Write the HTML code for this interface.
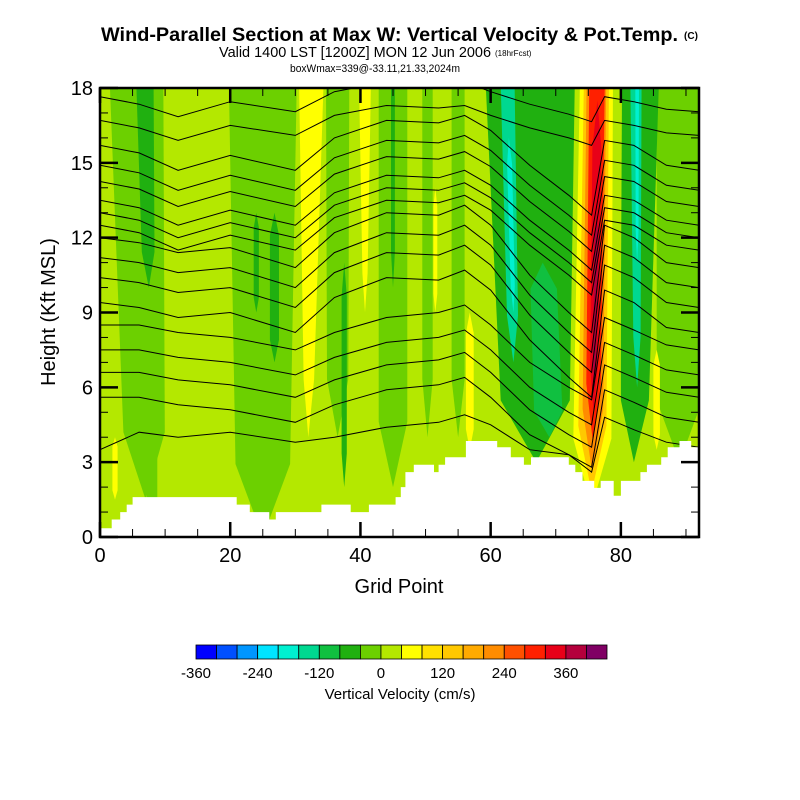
<!DOCTYPE html>
<html><head><meta charset="utf-8"><style>
html,body{margin:0;padding:0;background:#fff}
svg{display:block;font-family:"Liberation Sans",sans-serif}
</style></head><body>
<svg id="chart" width="800" height="800" viewBox="0 0 800 800">
<text x="101" y="41" font-size="19" font-weight="bold" textLength="577" lengthAdjust="spacingAndGlyphs">Wind-Parallel Section at Max W: Vertical Velocity &amp; Pot.Temp.</text>
<text x="691" y="39" text-anchor="middle" font-size="10" font-weight="bold">(C)</text>
<text x="219" y="57" font-size="14.5" textLength="272" lengthAdjust="spacingAndGlyphs">Valid 1400 LST [1200Z] MON 12 Jun 2006</text>
<text x="495" y="56" font-size="8">(18hrFcst)</text>
<text x="290" y="72" font-size="11" textLength="170" lengthAdjust="spacingAndGlyphs">boxWmax=339@-33.11,21.33,2024m</text>
<defs><clipPath id="plotclip"><rect x="100" y="88" width="599" height="449"/></clipPath></defs>
<g id="plot" clip-path="url(#plotclip)">
<rect x="100" y="88" width="599" height="449" fill="#b4e800"/>
<g id="bands"></g>
<g id="contours"></g>
<g id="terrain"></g>
</g>
<g id="axes"></g>
<text x="399" y="593" text-anchor="middle" font-size="20">Grid Point</text>
<text transform="translate(55,312) rotate(-90)" text-anchor="middle" font-size="20">Height (Kft MSL)</text>
<g id="colorbar"></g>
<text x="400" y="699" text-anchor="middle" font-size="15">Vertical Velocity (cm/s)</text>
</svg>
<script>
// ---- data ----
const binColors = ["#0000ff","#0050ff","#0096ff","#00e4ff","#00f0d0","#00d890","#10c040","#20b010","#6cd000","#b4e800","#ffff00","#ffe000","#ffc800","#ffaa00","#ff8c00","#ff5000","#ff2000","#e80018","#b4003c","#800064"];
const cbTicks = [-360,-240,-120,0,120,240,360];
// bands: [xBottom, xTop, zBottom, zTop, halfWidthBottom, halfWidthTop, w(cm/s)]
const bands = [
 [7,5.5,1.5,18,3.0,4.2,-20],
 [7.5,6.8,10,18,0.9,1.4,-60],
 [8,8,0,9,0.8,0.8,-20],
 [2.3,2.3,1.5,4,0.4,0.4,60],
 [25,25,0,18,4,5.3,-20],
 [24,24,9,13,0.4,0.4,-60],
 [26.8,26.8,7,13,0.7,0.7,-60],
 [32,32.5,4,18,0.6,2.0,60],
 [36.5,36.5,4,18,1.6,1.8,-20],
 [37.5,37.5,2,11,0.4,0.4,-60],
 [40.7,40.7,9,18,0.3,1.0,60],
 [45,45,2,18,2.2,2.2,-20],
 [45,45,10,18,0.3,0.3,-60],
 [50.3,50.3,4,18,0.8,0.8,-20],
 [55,55,4,18,1,1,-20],
 [67,66,3,18,5.0,7.0,-60],
 [69,68,4,11,2.2,2.0,-100],
 [63.5,62.5,7,18,0.8,1.1,-140],
 [63.5,62.8,9,16,0.3,0.4,-180],
 [56.8,56.8,3.5,9,0.6,0.6,60],
 [51.5,51.5,9,14,0.3,0.3,60],
 [89,89,3,18,3.5,3.5,-20],
 [82,83,3,18,2.0,3.0,-60],
 [82.5,82.3,6,18,0.5,0.9,-140],
 [82.5,82.5,11,18,0.2,0.3,-200],
 [79.3,79.3,4,18,0.6,0.9,20],
 [85.5,85.5,3.5,7.5,0.5,0.5,60],
 [75.5,76.3,1.2,18,3.0,2.5,60],
 [75.5,76.3,1.8,18,2.2,1.9,140],
 [75.6,76.3,2.6,18,1.6,1.5,220],
 [75.7,76.4,3.8,18,1.1,1.2,300],
 [75.8,76.4,5,17.5,0.6,0.7,340],
 [75.9,76.3,6,13,0.25,0.3,380]
];
// theta contour sample positions and heights (kft)
const lineX = [0,6,12,20,30,36,44,52,56,60,66,72,75.5,77.5,82,87,92];
const L1 = [17.65,17.35,16.85,17.45,17.05,17.85,18.25,18.15,18.25,17.85,17.35,16.95,16.65,17.65,17.45,17.15,17.05];
const L2 = [16.7,16.4,15.9,16.5,16.1,16.9,17.3,17.2,17.3,16.9,16.4,16.0,15.7,16.7,16.5,16.2,16.1];
const L3 = [15.7,15.4,14.7,15.3,14.7,16.0,16.7,16.6,16.9,16.3,14.9,13.7,12.9,15.9,15.7,14.9,14.7];
const L4 = [14.9,14.6,13.9,14.5,13.9,15.2,15.9,15.8,16.1,15.5,14.1,12.9,12.1,15.1,14.9,14.1,13.9];
const L5 = [14.25,13.95,13.25,13.85,13.25,14.55,15.25,15.15,15.45,14.85,13.45,12.25,11.45,14.45,14.25,13.45,13.25];
const L6 = [13.5,13.2,12.5,13.1,12.5,13.8,14.5,14.4,14.7,14.1,12.7,11.5,10.7,13.7,13.5,12.7,12.5];
const L7 = [13.0,12.7,12.0,12.6,12.0,13.3,14.0,13.9,14.2,13.6,12.2,11.0,10.2,13.2,13.0,12.2,12.0];
const L8 = [12.5,12.2,11.5,12.1,11.5,12.8,13.5,13.4,13.7,13.1,11.7,10.5,9.7,12.7,12.5,11.7,11.5];
const L9 = [12.0,11.8,11.4,11.6,10.8,12.2,13.0,12.9,13.3,12.5,10.5,9.0,8.2,12.5,12.0,11.0,10.8];
const L10 = [11.2,11.0,10.6,10.8,10.0,11.4,12.2,12.1,12.5,11.7,9.7,8.2,7.4,11.7,11.2,10.2,10.0];
const L11 = [10.4,10.2,9.8,10.0,9.2,10.6,11.4,11.3,11.7,10.9,8.9,7.4,6.6,10.9,10.4,9.4,9.2];
const L12 = [9.4,9.2,8.8,9.0,8.2,9.6,10.4,10.3,10.7,9.9,7.9,6.4,5.6,9.9,9.4,8.4,8.2];
const L13 = [8.5,8.5,8.2,8.0,7.5,8.2,8.8,9.0,9.3,8.5,7.0,6.0,5.5,8.8,8.3,7.7,7.5];
const L14 = [7.5,7.5,7.2,7.0,6.5,7.2,7.8,8.0,8.3,7.5,6.0,5.0,4.5,7.8,7.3,6.7,6.5];
const L15 = [6.6,6.6,6.3,6.1,5.6,6.3,6.9,7.1,7.4,6.6,5.1,4.1,3.6,6.9,6.4,5.8,5.6];
const L16 = [5.6,5.6,5.3,5.1,4.6,5.3,5.9,6.1,6.4,5.6,4.1,3.3,2.8,5.9,5.4,4.8,4.6];
const L17 = [3.5,4.2,4.0,4.2,3.8,4.0,4.4,4.6,4.9,4.5,3.5,3.3,2.6,4.8,4.3,3.8,3.6];
const thetaLines = [L1,L2,L3,L4,L5,L6,L7,L8,L9,L10,L11,L12,L13,L14,L15,L16,L17];
// terrain: [start grid point, height kft]
const terrain = [[0,0.35],[1.8,0.7],[3.1,1.0],[4.1,1.3],[5,1.6],[21,1.3],[23,1.0],[26,0.7],[27,1.0],[34,1.3],[38.5,1.0],[41.3,1.3],[45.4,1.6],[46.2,2.0],[46.9,2.6],[48.2,2.9],[51.3,2.6],[52,2.9],[53,3.2],[56.2,3.85],[61,3.6],[63.1,3.2],[65.1,2.9],[66.2,3.2],[72,2.9],[73,2.6],[74.1,2.25],[75.9,1.97],[76.9,2.25],[78.9,1.65],[80,2.25],[83,2.6],[84,2.9],[86.2,3.2],[87.2,3.6],[89,3.85],[90.8,3.6]];
const xTicks = [0,20,40,60,80];
const yTicks = [0,3,6,9,12,15,18];

// ---- scales ----
const NS = "http://www.w3.org/2000/svg";
const X = g => 100 + g * (599/92);
const Y = z => 537 - z * (449/18);
const binColor = v => binColors[Math.max(0, Math.min(19, Math.floor((v + 360) / 40)))];
function mk(tag, attrs, parent){const e=document.createElementNS(NS,tag);for(const k in attrs)e.setAttribute(k,attrs[k]);parent.appendChild(e);return e;}

// bands
const gB = document.getElementById('bands');
bands.forEach((b,i)=>{
  const [xb,xt,zb,zt0,wb,wt,v]=b;
  const zt = zt0>=18 ? 19.5 : zt0;
  const len = zt-zb, zb2 = zb+len*0.15, zt2 = zt0>=18? zt : zt-len*0.15;
  const xAt = z => xb + (xt-xb)*(z-zb)/len;
  const wAt = z => wb + (wt-wb)*(z-zb)/len;
  const pts = [[xAt(zb),zb],[xAt(zb2)-wAt(zb2),zb2],[xAt(zt2)-wAt(zt2),zt2],[xAt(zt),zt],[xAt(zt2)+wAt(zt2),zt2],[xAt(zb2)+wAt(zb2),zb2]];
  if(zt0>=18){pts[3]=[xAt(zt)+wAt(zt),zt];pts.splice(3,0,[xAt(zt)-wAt(zt),zt]);}
  const p = mk('polygon',{points:pts.map(q=>X(q[0]).toFixed(1)+','+Y(q[1]).toFixed(1)).join(' '),fill:binColor(v)},gB);
  
  
});

// contours
const gC = document.getElementById('contours');
thetaLines.forEach(line=>{
  const d = line.map((z,i)=>(i?'L':'M')+X(lineX[i]).toFixed(1)+','+Y(z).toFixed(1)).join(' ');
  const p = mk('path',{d:d,fill:'none',stroke:'#000','stroke-width':1},gC);
  
  
});

// terrain
const gT = document.getElementById('terrain');
let tp = 'M'+X(0)+','+Y(-1);
terrain.forEach((s,i)=>{
  const x0=X(s[0]), x1=X(i+1<terrain.length?terrain[i+1][0]:93);
  tp += ' L'+x0.toFixed(1)+','+Y(s[1]).toFixed(1)+' L'+x1.toFixed(1)+','+Y(s[1]).toFixed(1);
});
tp += ' L'+X(93)+','+Y(-1)+' Z';
const tEl = mk('path',{d:tp,fill:'#fff'},gT);



// axes
const gA = document.getElementById('axes');
const frame = mk('rect',{x:100,y:88,width:599,height:449,fill:'none',stroke:'#000','stroke-width':2.5},gA);


for(let g=0; g<=92; g+=5){
  const major = g%20===0, L = major?15:8;
  const t1 = mk('line',{x1:X(g),x2:X(g),y1:537,y2:537-L,stroke:'#000','stroke-width':major?2.5:1},gA);
  
  
  const t2 = mk('line',{x1:X(g),x2:X(g),y1:88,y2:88+L,stroke:'#000','stroke-width':major?2.5:1},gA);
  
  
}
for(let z=0; z<=18; z++){
  const major = z%3===0, L = major?18:8;
  const t1 = mk('line',{x1:100,x2:100+L,y1:Y(z),y2:Y(z),stroke:'#000','stroke-width':major?2.5:1},gA);
  
  
  const t2 = mk('line',{x1:699,x2:699-L,y1:Y(z),y2:Y(z),stroke:'#000','stroke-width':major?2.5:1},gA);
  
  
}
xTicks.forEach(v=>{
  const t = mk('text',{x:X(v),y:562,'text-anchor':'middle','font-size':20},gA);
  t.textContent = v;
  
  
});
yTicks.forEach(v=>{
  const t = mk('text',{x:93,y:Y(v)+7,'text-anchor':'end','font-size':20},gA);
  t.textContent = v;
  
  
});

// colorbar
const gCb = document.getElementById('colorbar');
const cbX0=196, cbW=411/20;
binColors.forEach((c,i)=>{
  const r = mk('rect',{x:cbX0+i*cbW,y:645,width:cbW,height:14,fill:c,stroke:'#000','stroke-width':0.8},gCb);
  
  
});
cbTicks.forEach(v=>{
  const t = mk('text',{x:cbX0+(v+360)/40*cbW,y:678,'text-anchor':'middle','font-size':15},gCb);
  t.textContent = v;
  
  
});
</script>
</body></html>
